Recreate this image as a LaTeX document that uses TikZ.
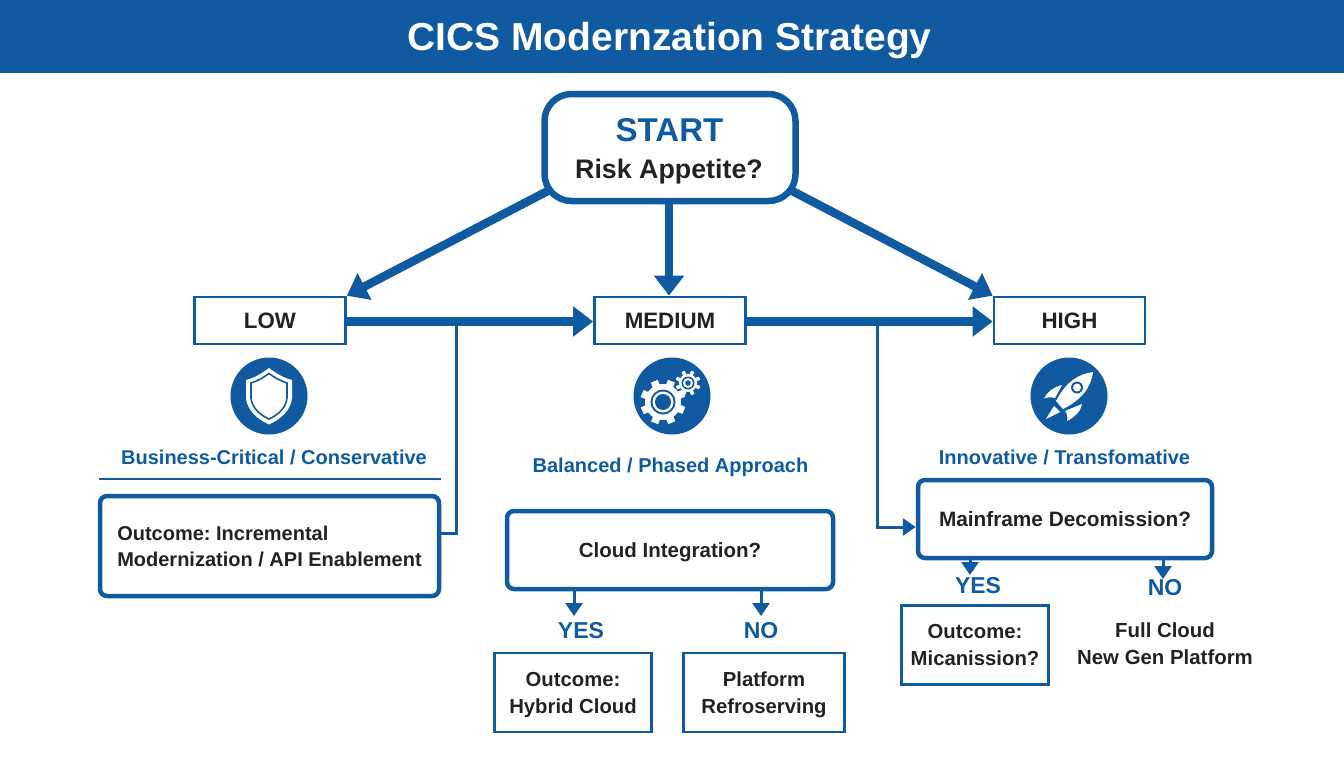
\documentclass[tikz,border=0pt]{standalone}
\usepackage{fontspec}
\setmainfont{Liberation Sans}
\usetikzlibrary{arrows.meta}
\frenchspacing

\definecolor{planblue}{HTML}{0F5AA0}
\definecolor{plantext}{HTML}{222222}

\tikzset{
    levelbox/.style={draw=planblue, line width=2.6pt, minimum width=151pt, minimum height=47pt, text=plantext, font=\fontsize{22.3}{27}\selectfont\bfseries},
    askbox/.style={draw=planblue, line width=4.5pt, rounded corners=7pt, text depth=0pt, text=plantext, font=\fontsize{20.5}{26}\selectfont\bfseries},
    endbox/.style={draw=planblue, line width=2.6pt, minimum height=79pt, text depth=0pt, align=center, text=plantext, font=\fontsize{20.3}{27}\selectfont\bfseries},
    plainlabel/.style={align=center, text=plantext, font=\fontsize{20.4}{27}\selectfont\bfseries},
    bluelabel/.style={text=planblue, font=\fontsize{20}{24}\selectfont\bfseries},
    answer/.style={text=planblue, font=\fontsize{23}{28}\selectfont\bfseries},
    iconback/.style={circle, fill=planblue, minimum size=77pt, inner sep=0pt},
    bigarrow/.style={draw=planblue, line width=8.5pt, -{Triangle[length=20pt,width=29pt]}},
    slimarrow/.style={draw=planblue, line width=3pt, -{Triangle[length=13pt,width=17pt]}},
    slimline/.style={draw=planblue, line width=3pt},
}

\begin{document}
\begin{tikzpicture}[x=1pt, y=-1pt]
        \useasboundingbox (0,0) rectangle (1344,768);

        % title band
        \fill[planblue] (0,0) rectangle (1344,73);
        \node[text=white, font=\fontsize{39}{42}\selectfont\bfseries] (title) at (669.5,41) {CICS Modernzation Strategy};

        % start and the three levels
        \node[draw=planblue, line width=6.5pt, rounded corners=27pt, minimum width=251pt, minimum height=107pt] (start) at (670,147.5) {};
        \node[text=planblue, font=\fontsize{33}{38}\selectfont\bfseries] (startword) at (669.5,130) {START};
        \node[text=plantext, font=\fontsize{26.8}{30}\selectfont\bfseries] (risk) at (669,172) {Risk Appetite?};

        \node[levelbox] (low) at (270,320.5) {LOW};
        \node[levelbox] (medium) at (670,320.5) {MEDIUM};
        \node[levelbox] (high) at (1069.5,320.5) {HIGH};

        % icon circles
        \node[iconback] (shieldicon) at (269,396) {};
        \node[iconback] (gearicon) at (672,396) {};
        \node[iconback] (rocketicon) at (1069,396) {};

        % shield
        \fill[white] (269,368) .. controls (261,374) and (254,378) .. (246,380) -- (246,398) .. controls (247,410) and (257,419) .. (269,424.5) .. controls (281,419) and (291,410) .. (292,398) -- (292,380) .. controls (284,378) and (277,374) .. (269,368) -- cycle;
        \draw[planblue, line width=1.6pt] (269,373.5) .. controls (263,378) and (257,381) .. (251,383) -- (251,398) .. controls (252,408) and (260,415) .. (269,419) .. controls (278,415) and (286,408) .. (287,398) -- (287,383) .. controls (281,381) and (275,378) .. (269,373.5) -- cycle;

        % gears
        \fill[white] (663,402) circle (18);
        \foreach \a in {0,45,...,315}
            \draw[white, line width=7.5pt] (663,402) ++(\a+22:15) -- ++(\a+22:7.5);
        \fill[planblue] (663,402) circle (12.5);
        \fill[white] (663,402) circle (10.5);
        \fill[planblue] (663,402) circle (8);
        \fill[white] (688,383) circle (9);
        \foreach \a in {0,45,...,315}
            \draw[white, line width=3.5pt] (688,383) ++(\a+22:8) -- ++(\a+22:4.5);
        \fill[planblue] (688,383) circle (6.5);
        \fill[white] (688,383) circle (5);
        \fill[planblue] (688,383) circle (2.8);

        % rocket
        \fill[white] (1093,372) .. controls (1078,374) and (1066,382) .. (1056,401) -- (1063,409) .. controls (1081,400) and (1091,388) .. (1093,372) -- cycle;
        \fill[planblue] (1077,387.5) circle (6);
        \fill[white] (1077,387.5) circle (4);
        \fill[white] (1062,385) .. controls (1054,387) and (1048,391) .. (1044,398.5) .. controls (1047,397) and (1052,397) .. (1055,398) -- cycle;
        \fill[white] (1082,404) .. controls (1081,411) and (1075,417) .. (1067,421) .. controls (1068,417) and (1067,413) .. (1065,411) -- cycle;
        \fill[white] (1054,406) -- (1046,419) -- (1060,412) -- cycle;

        % level captions
        \node[bluelabel] (lowcap) at (274,457) {Business-Critical / Conservative};
        \node[bluelabel] (medcap) at (670.5,467) {Balanced / Phased Approach};
        \node[bluelabel] (highcap) at (1064.5,457) {Innovative / Transfomative};

        \draw[planblue, line width=2.5pt] (99,479) -- (441,479);

        % outcome and question boxes
        \node[askbox, minimum width=339pt, minimum height=100pt, align=left, font=\fontsize{20}{26}\selectfont\bfseries] (incremental) at (269.5,546) {Outcome: Incremental\\Modernization / API Enablement};
        \node[askbox, minimum width=326pt, minimum height=78pt] (cloud) at (670,550) {Cloud Integration?};
        \node[askbox, minimum width=294pt, minimum height=78pt, font=\fontsize{20.8}{26}\selectfont\bfseries] (mainframe) at (1065,519) {Mainframe Decomission?};

        \node[answer] (yesmid) at (581,631) {YES};
        \node[answer] (nomid) at (761,631) {NO};
        \node[endbox, minimum width=157pt] (hybrid) at (573,692.5) {Outcome:\\Hybrid Cloud};
        \node[endbox, minimum width=161pt] (platform) at (764,692.5) {Platform\\Refroserving};

        \node[answer] (yeshigh) at (978,586) {YES};
        \node[answer] (nohigh) at (1165,588) {NO};
        \node[endbox, minimum width=147pt] (mican) at (975,645) {Outcome:\\Micanission?};
        \node[plainlabel] (fullcloud) at (1165,644) {Full Cloud\\New Gen Platform};

        % thick arrows
        \draw[bigarrow, shorten <=-8pt] (start.200) -- (low.north east);
        \draw[bigarrow] (start.south -| risk) -- (medium.north -| risk);
        \draw[bigarrow, shorten <=-8pt] (start.-20) -- (high.north west);
        \draw[bigarrow] (low) ++(76,1) -- (medium.west |- 0,321.5);
        \draw[bigarrow] (medium) ++(76,1) -- (high.west |- 0,321.5);

        % branches off the thick arrows
        \coordinate (lowdrop) at (456,321);
        \coordinate (meddrop) at (877,321);
        \draw[slimline] (lowdrop) |- (incremental.east |- 0,533);
        \draw[slimarrow] (meddrop) |- (mainframe.west |- 0,527);

        % yes and no arrows
        \coordinate (cloudyes) at (574,616);
        \coordinate (cloudno) at (761,616);
        \coordinate (mainyes) at (970,575);
        \coordinate (mainno) at (1163,579);
        \draw[slimarrow] (cloudyes |- cloud.south) -- (cloudyes);
        \draw[slimarrow] (cloudno |- cloud.south) -- (cloudno);
        \draw[slimarrow] (mainyes |- mainframe.south) -- (mainyes);
        \draw[slimarrow] (mainno |- mainframe.south) -- (mainno);
    \end{tikzpicture}
\end{document}
